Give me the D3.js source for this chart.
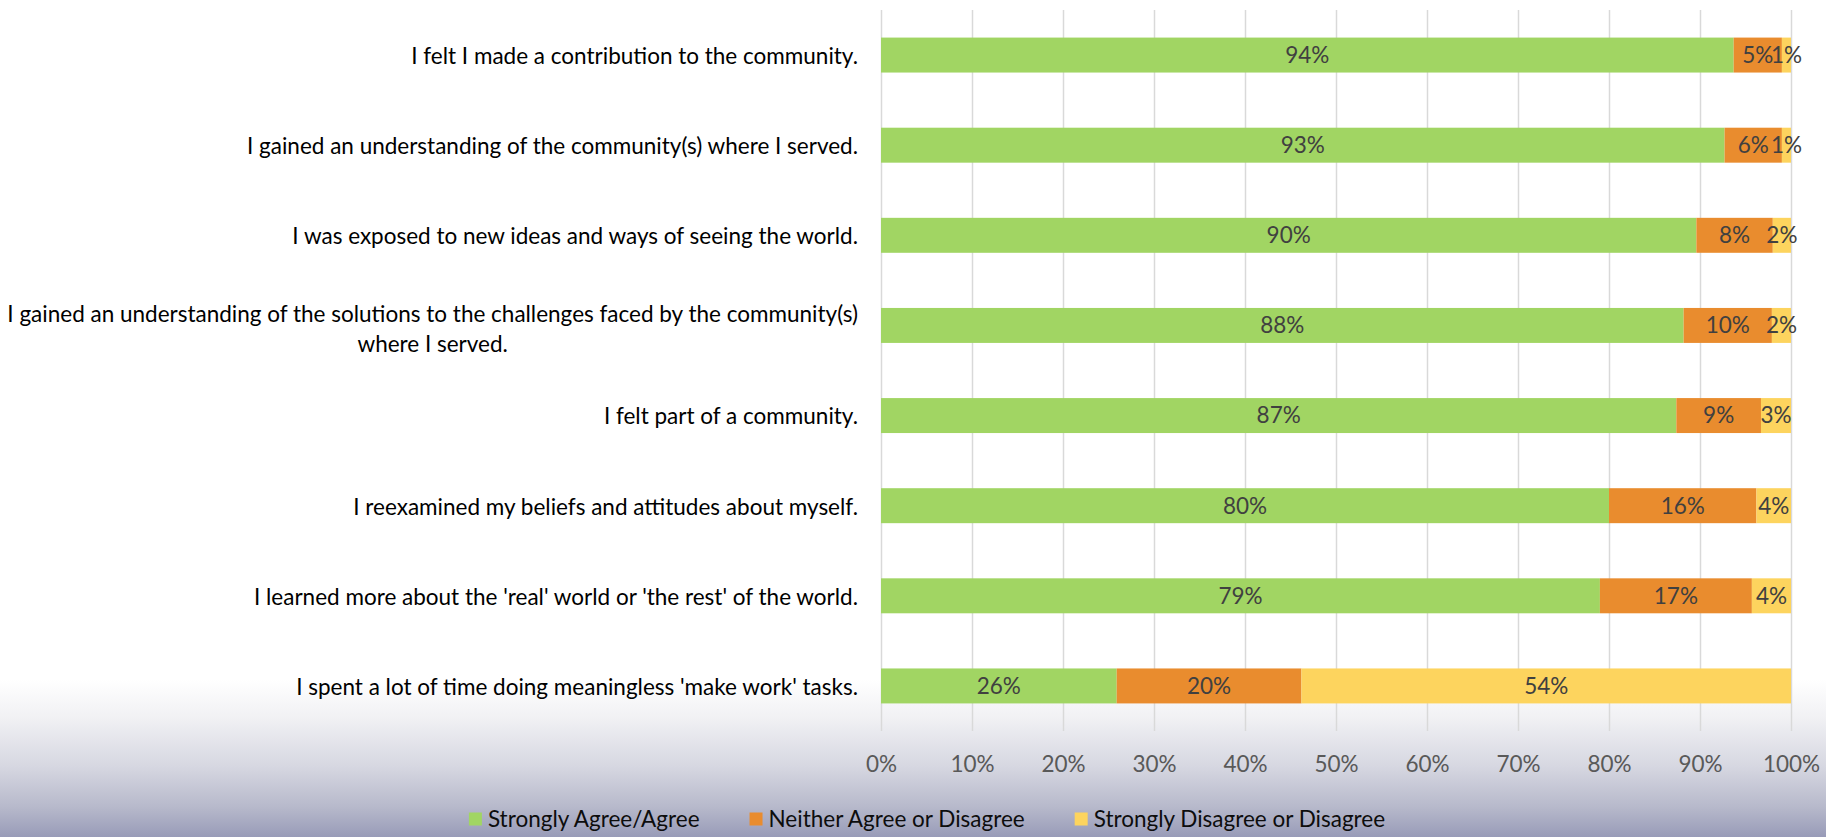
<!DOCTYPE html>
<html><head><meta charset="utf-8">
<script src="https://cdn.jsdelivr.net/npm/d3@7"></script>
<style>
html,body{margin:0;padding:0;overflow:hidden;background:#fff;}
svg{display:block;font-family:Lato,"Open Sans",sans-serif;}
</style>
</head><body>
<svg id="chart" width="1826" height="837"></svg>
<script>
const categories = [
  "I felt I made a contribution to the community.",
  "I gained an understanding of the community(s) where I served.",
  "I was exposed to new ideas and ways of seeing the world.",
  "I gained an understanding of the solutions to the challenges faced by the community(s) where I served.",
  "I felt part of a community.",
  "I reexamined my beliefs and attitudes about myself.",
  "I learned more about the 'real' world or 'the rest' of the world.",
  "I spent a lot of time doing meaningless 'make work' tasks."
];
const agree    = [93.7, 92.7, 89.6, 88.2, 87.4, 80.0, 79.0, 25.9];
const neither  = [5.3, 6.3, 8.4, 9.7, 9.3, 16.2, 16.7, 20.3];
const disagree = [1.0, 1.0, 2.0, 2.1, 3.3, 3.8, 4.3, 53.8];
const seriesNames  = ["Strongly Agree/Agree", "Neither Agree or Disagree", "Strongly Disagree or Disagree"];
const seriesColors = ["#a1d563", "#e98c2e", "#fdd45e"];
const tickValues = [0, 10, 20, 30, 40, 50, 60, 70, 80, 90, 100];

const W = 1826, H = 837;
const FS = 22.5;
const svg = d3.select("#chart");

// background gradient
const defs = svg.append("defs");
const grad = defs.append("linearGradient").attr("id", "bg")
  .attr("gradientUnits", "userSpaceOnUse").attr("x1", 0).attr("y1", 0).attr("x2", 0).attr("y2", H);
[[0, "#ffffff"], [0.812, "#ffffff"], [0.857, "#f1f1f4"], [0.916, "#d6d7e1"], [0.964, "#b7b9cb"], [1, "#989bb8"]]
  .forEach(([o, c]) => grad.append("stop").attr("offset", o).attr("stop-color", c));
svg.append("rect").attr("width", W).attr("height", H).attr("fill", "url(#bg)");

const x = d3.scaleLinear().domain([0, 100]).range([881, 1791]);
const y = d3.scaleBand().domain(categories).range([10, 731]).paddingInner(0.612).paddingOuter(0.306);

// grid + axis
const axis = svg.append("g").attr("transform", "translate(0,731)")
  .call(d3.axisBottom(x).tickValues(tickValues).tickSize(-721).tickFormat(d => d + "%"));
axis.select(".domain").remove();
axis.selectAll(".tick line").attr("stroke", "#d9d9d9").attr("stroke-width", 1.5);
axis.selectAll(".tick text").attr("y", 33).attr("dy", "0.35em")
  .attr("fill", "#595959").style("font-size", FS + "px").style("font-family", "Lato, sans-serif");

// stacked data
const rows = categories.map((c, i) => ({ cat: c, agree: agree[i], neither: neither[i], disagree: disagree[i] }));
const keys = ["agree", "neither", "disagree"];
const stack = d3.stack().keys(keys)(rows);

const layers = svg.append("g").selectAll("g").data(stack).join("g")
  .attr("fill", (d, i) => seriesColors[i]);
layers.selectAll("rect").data(d => d).join("rect")
  .attr("x", d => x(d[0])).attr("width", d => x(d[1]) - x(d[0]))
  .attr("y", d => y(d.data.cat)).attr("height", y.bandwidth());

const fmt = v => Math.round(v) + "%";
const lab = svg.append("g");
stack.forEach(layer => {
  lab.selectAll(null).data(layer).join("text")
    .attr("x", d => (x(d[0]) + x(d[1])) / 2)
    .attr("y", d => y(d.data.cat) + y.bandwidth() / 2)
    .attr("dy", "0.35em").attr("text-anchor", "middle")
    .attr("fill", "#404040").style("font-size", FS + "px")
    .text(d => fmt(d[1] - d[0]));
});

// category labels with wrapping
const labelRight = 858, maxW = 880, lineH = 30;
const catG = svg.append("g");
categories.forEach(c => {
  const t = catG.append("text").style("font-size", FS + "px").attr("fill", "#000");
  const words = c.split(" ");
  const lines = [];
  let cur = [];
  const probe = t.append("tspan");
  words.forEach(w => {
    cur.push(w);
    probe.text(cur.join(" "));
    if (probe.node().getComputedTextLength() > maxW && cur.length > 1) {
      cur.pop();
      lines.push(cur.join(" "));
      cur = [w];
    }
  });
  lines.push(cur.join(" "));
  probe.remove();
  const widths = lines.map(l => { const s = t.append("tspan").text(l); const w = s.node().getComputedTextLength(); s.remove(); return w; });
  const bw = d3.max(widths);
  const cx = labelRight - bw / 2;
  const cy = y(c) + y.bandwidth() / 2;
  const y0 = cy - (lines.length - 1) * lineH / 2 + (lines.length > 1 ? 4 : 1);
  lines.forEach((l, i) => {
    t.append("tspan").attr("x", cx).attr("y", y0 + i * lineH).attr("dy", "0.35em")
      .attr("text-anchor", "middle").text(l);
  });
});

// legend
const legend = svg.append("g");
const items = seriesNames.map((n, i) => {
  const g = legend.append("g");
  g.append("rect").attr("width", 13).attr("height", 13).attr("y", -6.5).attr("fill", seriesColors[i]);
  const tx = g.append("text").attr("x", 19).attr("dy", "0.35em").attr("fill", "#0d0d0d")
    .style("font-size", FS + "px").text(n);
  return { g, w: 19 + tx.node().getComputedTextLength() };
});
const gap = 50;
const total = d3.sum(items, d => d.w) + gap * (items.length - 1);
let lx = 927 - total / 2;
items.forEach(it => { it.g.attr("transform", `translate(${lx},819)`); lx += it.w + gap; });
</script>
</body></html>
